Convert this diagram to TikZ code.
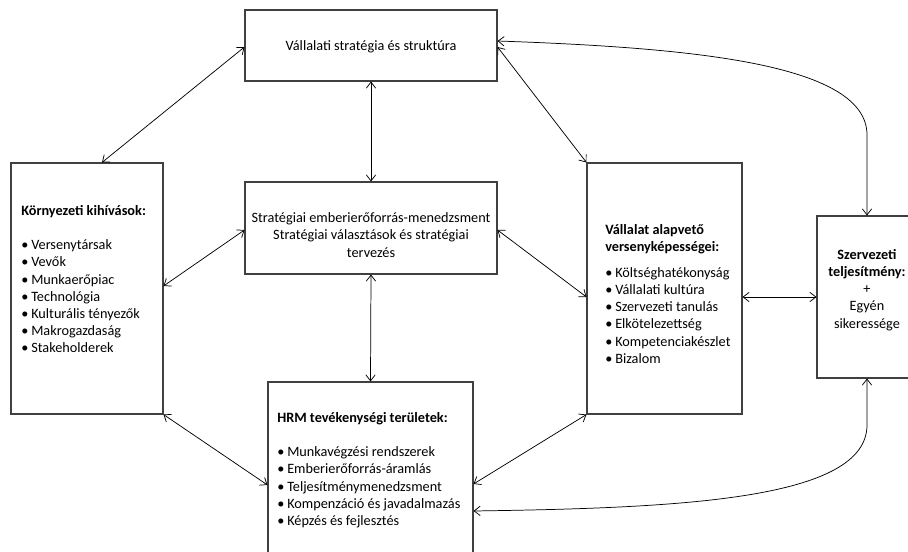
\documentclass[tikz,border=0pt]{standalone}
\usepackage{fontspec}
\setmainfont{Carlito}
\usetikzlibrary{arrows.meta,calc}
% bullet item with a fixed indent for the text
\newcommand{\bitem}[1]{\makebox[7.5pt][l]{•}#1}
\begin{document}
\begin{tikzpicture}[x=0.75pt,y=-0.75pt,
  frame/.style={draw=black!75, line width=0.8pt, rectangle, inner sep=0pt},
  label/.style={font=\fontsize{10.7}{12.9}\selectfont, inner sep=0pt},
  tip/.tip={Straight Barb[length=4.5pt,width=7pt]},
  link/.style={draw=black, line width=0.55pt, tip-tip}]
\useasboundingbox (0,0) rectangle (908,552);
\clip (0,0) rectangle (908,552);

% boxes
\node[frame, minimum width=189pt, minimum height=53.25pt] (top) at (371,45.5) {};
\node[frame, minimum width=189pt, minimum height=69pt] (mid) at (371,228) {};
\node[frame, minimum width=114pt, minimum height=188.25pt] (left) at (87,288.5) {};
\node[frame, minimum width=153.75pt, minimum height=163.5pt] (hrm) at (370.5,491) {};
\node[frame, minimum width=116.25pt, minimum height=188.25pt] (right) at (664.5,288.5) {};
\node[frame, minimum width=75pt, minimum height=121.5pt] (szerv) at (867,297) {};

% texts
\node[label] (toptext) at (371,47) {Vállalati stratégia és struktúra};
\node[label, align=center] (midtext) at (371,235) {Stratégiai emberierőforrás-menedzsment\\Stratégiai választások és stratégiai\\tervezés};
\node[label, align=left, anchor=north west] (lefttext) at (21,205) {\textbf{Környezeti kihívások:}\\[12.9pt]
  \bitem{Versenytársak}\\ \bitem{Vevők}\\ \bitem{Munkaerőpiac}\\ \bitem{Technológia}\\
  \bitem{Kulturális tényezők}\\ \bitem{Makrogazdaság}\\ \bitem{Stakeholderek}};
\node[label, align=left, anchor=north west] (hrmtext) at (277,412) {\textbf{HRM tevékenységi területek:}\\[12.9pt]
  \bitem{Munkavégzési rendszerek}\\ \bitem{Emberierőforrás-áramlás}\\ \bitem{Teljesítménymenedzsment}\\
  \bitem{Kompenzáció és javadalmazás}\\ \bitem{Képzés és fejlesztés}};
\node[label, align=left, anchor=north west] (righttext) at (605,224) {\textbf{Vállalat alapvető}\\ \textbf{versenyképességei:}\\[6.4pt]
  \bitem{Költséghatékonyság}\\ \bitem{Vállalati kultúra}\\ \bitem{Szervezeti tanulás}\\
  \bitem{Elkötelezettség}\\ \bitem{Kompetenciakészlet}\\ \bitem{Bizalom}};
\node[label, align=center] (szervtext) at (867,290) {\textbf{Szervezeti}\\ \textbf{teljesítmény:}\\+\\Egyén\\sikeressége};

% connectors
\draw[link] ($(top.west)+(0,1.5)$) -- ($(left.north)+(15,0)$);
\draw[link] (top.south) -- (mid.north);
\draw[link] ($(mid.west)+(0,2)$) -- ($(left.east)+(0,-2.5)$);
\draw[link] ($(mid.east)+(0,2)$) -- ($(right.west)+(0,8.5)$);
\draw[link] (mid.south) -- (hrm.north);
\draw[link] (left.south east) -- ($(hrm.west)+(0,-6)$);
\draw[link] ($(hrm.east)+(0,-7)$) -- (right.south west);
\draw[link] ($(top.east)+(0,1.5)$) -- (right.north west);
\draw[link] ($(top.east)+(0,-4.5)$) .. controls (700,48) and (867,65) .. (867,135) -- (szerv.north);
\draw[link] (szerv.south) -- (867,425) .. controls (867,500) and (680,508) .. ($(hrm.east)+(0,20)$);
\draw[link] (szerv.west -| right.east) -- (szerv.west);
\end{tikzpicture}
\end{document}
